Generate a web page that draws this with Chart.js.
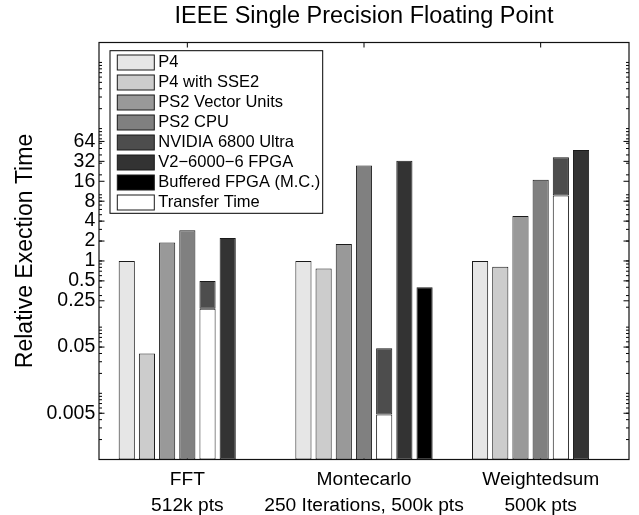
<!DOCTYPE html>
<html>
<head>
<meta charset="utf-8">
<script src="https://cdn.jsdelivr.net/npm/chart.js@4/dist/chart.umd.min.js"></script>
<style>
  html, body { margin: 0; padding: 0; background: #fff; }
  #wrap { width: 639px; height: 515px; position: relative; }
</style>
</head>
<body>
<div id="wrap"><canvas id="c"></canvas></div>
<script>
// ---- data ----
const categories = [['FFT', '512k pts'], ['Montecarlo', '250 Iterations, 500k pts'], ['Weightedsum', '500k pts']];
const seriesNames = ['P4', 'P4 with SSE2', 'PS2 Vector Units', 'PS2 CPU', 'NVIDIA 6800 Ultra', 'V2\u22126000\u22126 FPGA', 'Buffered FPGA (M.C.)', 'Transfer Time'];
const p4 = [1, 1, 1];
const p4Sse2 = [0.04, 0.77, 0.82];
const ps2VectorUnits = [1.9, 1.8, 4.8];
const ps2Cpu = [2.9, 27.6, 16.8];
const nvidia6800 = [0.5, 0.048, 36.8];
const v2Fpga = [2.22, 32.8, 47.5];
const bufferedFpga = [null, 0.40, null];
const transferTime = [0.19, 0.0048, 9.75];
const yTickValues = [0.005, 0.05, 0.25, 0.5, 1, 2, 4, 8, 16, 32, 64];
const yTickLabels = ['0.005', '0.05', '0.25', '0.5', '1', '2', '4', '8', '16', '32', '64'];
const colors = ['#e6e6e6', '#cccccc', '#999999', '#808080', '#4d4d4d', '#333333', '#000000', '#ffffff'];

const FONT = '"Liberation Sans", Arial, Helvetica, sans-serif';
Chart.defaults.font.family = FONT;
Chart.defaults.color = '#000';

function barDs(i, data, stack) {
  return {
    label: seriesNames[i],
    data: data,
    stack: stack,
    backgroundColor: colors[i],
    borderColor: '#1a1a1a',
    borderWidth: 1,
    borderSkipped: false,
    categoryPercentage: 0.8,
    barPercentage: 0.8
  };
}

const datasets = [
  barDs(0, p4, 's0'),
  barDs(1, p4Sse2, 's1'),
  barDs(2, ps2VectorUnits, 's2'),
  barDs(3, ps2Cpu, 's3'),
  barDs(4, nvidia6800.map((v, i) => [transferTime[i], v]), 's4'),
  barDs(5, v2Fpga, 's5'),
  barDs(6, bufferedFpga, 's6'),
  barDs(7, transferTime, 's4')
];

const axesPlugin = {
  id: 'matlabAxes',
  beforeDatasetsDraw(chart) {
    const ctx = chart.ctx, a = chart.chartArea, ys = chart.scales.y, xs = chart.scales.x;
    ctx.save();
    ctx.strokeStyle = '#000';
    ctx.lineWidth = 1;
    ctx.beginPath();
    for (let e = -3; e <= 3; e++) {
      for (let k = 1; k <= 9; k++) {
        const v = k * Math.pow(10, e);
        if (v < ys.min || v > ys.max) continue;
        const p = ys.getPixelForValue(v);
        ctx.moveTo(a.left, p); ctx.lineTo(a.left + 3, p);
        ctx.moveTo(a.right, p); ctx.lineTo(a.right - 3, p);
      }
    }
    yTickValues.forEach(v => {
      const p = ys.getPixelForValue(v);
      ctx.moveTo(a.left, p); ctx.lineTo(a.left + 5.5, p);
      ctx.moveTo(a.right, p); ctx.lineTo(a.right - 5.5, p);
    });
    categories.forEach((c, i) => {
      const p = xs.getPixelForValue(i);
      ctx.moveTo(p, a.top); ctx.lineTo(p, a.top + 5);
      ctx.moveTo(p, a.bottom); ctx.lineTo(p, a.bottom - 5);
    });
    ctx.stroke();
    ctx.restore();
  },
  afterDatasetsDraw(chart) {
    const ctx = chart.ctx, a = chart.chartArea;
    ctx.save();
    ctx.strokeStyle = '#111';
    ctx.lineWidth = 1.2;
    ctx.strokeRect(a.left, a.top, a.right - a.left, a.bottom - a.top);
    ctx.restore();
  },
  afterDraw(chart) {
    const ctx = chart.ctx, a = chart.chartArea;
    const x0 = a.left + 11, y0 = a.top + 8.2, w = 212.7, h = 162.6;
    ctx.save();
    ctx.fillStyle = '#fff';
    ctx.fillRect(x0, y0, w, h);
    ctx.strokeStyle = '#000';
    ctx.lineWidth = 1;
    ctx.strokeRect(x0, y0, w, h);
    ctx.font = '16.5px ' + FONT;
    ctx.textBaseline = 'middle';
    ctx.textAlign = 'left';
    chart.data.datasets.forEach((ds, i) => {
      const cy = y0 + 11.8 + i * 20;
      ctx.fillStyle = ds.backgroundColor;
      ctx.fillRect(x0 + 7.3, cy - 7.5, 37, 15);
      ctx.strokeStyle = '#1a1a1a';
      ctx.strokeRect(x0 + 7.3, cy - 7.5, 37, 15);
      ctx.fillStyle = '#000';
      ctx.fillText(ds.label, x0 + 48.3, cy - 0.5);
    });
    ctx.restore();
  }
};

new Chart(document.getElementById('c'), {
  type: 'bar',
  data: { labels: categories, datasets: datasets },
  options: {
    responsive: true,
    maintainAspectRatio: false,
    animation: false,
    layout: { padding: { left: 0, right: 10, top: 0, bottom: 0 } },
    plugins: {
      legend: { display: false },
      tooltip: { enabled: false },
      title: {
        display: true,
        text: 'IEEE Single Precision Floating Point',
        fullSize: false,
        color: '#000',
        font: { family: FONT, size: 23.5, weight: 'normal', lineHeight: 1.2 },
        padding: { top: 2.8, bottom: 11.5 }
      }
    },
    scales: {
      x: {
        type: 'category',
        grid: { display: false, drawTicks: false },
        border: { display: false },
        ticks: {
          autoSkip: false,
          maxRotation: 0,
          minRotation: 0,
          padding: 7.4,
          color: '#000',
          font: { family: FONT, size: 19.2, lineHeight: 1.354 }
        },
        afterFit(scale) { scale.height = 55.5; }
      },
      y: {
        type: 'logarithmic',
        stacked: false,
        min: 0.001,
        max: 2000,
        grid: { display: false, drawTicks: false },
        border: { display: false },
        afterBuildTicks(scale) {
          scale.ticks = yTickValues.map(v => ({ value: v }));
        },
        ticks: {
          autoSkip: false,
          padding: 3.7,
          color: '#000',
          font: { family: FONT, size: 19.5, lineHeight: 1.0 },
          callback(value) {
            const i = yTickValues.indexOf(value);
            return i >= 0 ? yTickLabels[i] : '';
          }
        },
        title: {
          display: true,
          text: 'Relative Exection Time',
          color: '#000',
          font: { family: FONT, size: 23, weight: 'normal', lineHeight: 1.2 },
          padding: { top: 11.5, bottom: 0 }
        },
        afterFit(scale) { scale.width = 99; }
      }
    }
  },
  plugins: [axesPlugin]
});
</script>
</body>
</html>
